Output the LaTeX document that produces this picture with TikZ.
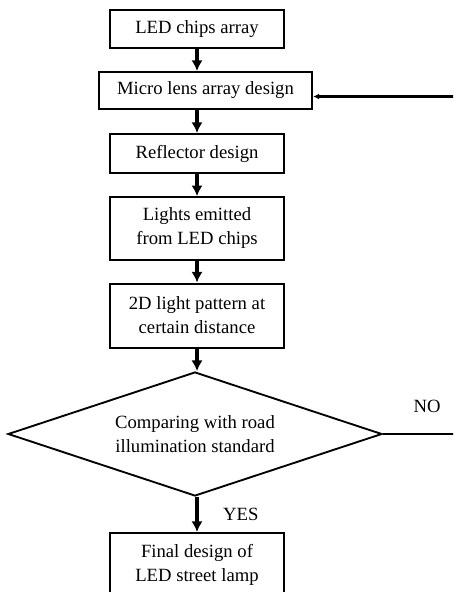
\documentclass[tikz,border=0pt]{standalone}
\usepackage{fontspec}
\setmainfont{Liberation Serif}
\usetikzlibrary{shapes.geometric,arrows.meta}

\tikzset{
  stepbox/.style={draw, line width=1.5pt, minimum width=130.5pt, align=center,
    inner sep=2pt, font=\fontsize{14}{18}\selectfont},
  flow/.style={line width=2.6pt, -{Latex[length=8pt,width=8.5pt]}},
  back/.style={line width=1.6pt, -{Latex[length=4.5pt,width=4.5pt]}}
}

\begin{document}
\begin{tikzpicture}[x=0.75pt,y=-0.75pt]
				\useasboundingbox (0,0) rectangle (453,592);
				\clip (0,0) rectangle (453,592);
				% boxes
				\node[stepbox, minimum height=28.5pt] (chips) at (197,29) {LED chips array};
				\node[stepbox, minimum width=160pt, minimum height=27.75pt] (lens) at (205.5,90.5) {Micro lens array design};
				\node[stepbox, minimum height=29.25pt] (refl) at (197,153.5) {Reflector design};
				\node[stepbox, minimum height=47pt] (emit) at (197,228.5) {Lights emitted\\from LED chips};
				\node[stepbox, minimum height=48pt] (pattern) at (197,315.5) {2D light pattern at\\certain distance};
				\node[draw, diamond, aspect=3, line width=1.4pt, minimum width=280.5pt, minimum height=93pt, inner sep=0pt,
					font=\fontsize{14}{18}\selectfont, align=center] (cmp) at (195,434) {Comparing with road\\illumination standard};
				\node[stepbox, minimum height=48pt] (final) at (197,565) {Final design of\\LED street lamp};
				% arrows
				\draw[flow] (chips.south) -- (chips.south |- lens.north);
				\draw[flow] (chips.south |- lens.south) -- (refl.north);
				\draw[flow] (refl) -- (emit);
				\draw[flow] (emit) -- (pattern);
				\draw[flow] (pattern.south) -- (pattern.south |- cmp.north);
				\draw[flow] (pattern.south |- cmp.south) -- (final.north) node[midway, right=15pt, font=\fontsize{14}{18}\selectfont] (yes) {YES};
				\draw[back] (cmp.east) -- ++(95,0) |- ([yshift=-4.5pt]lens.east);
				\node[font=\fontsize{14}{18}\selectfont] (no) at (427,406) {NO};
			\end{tikzpicture}
\end{document}
